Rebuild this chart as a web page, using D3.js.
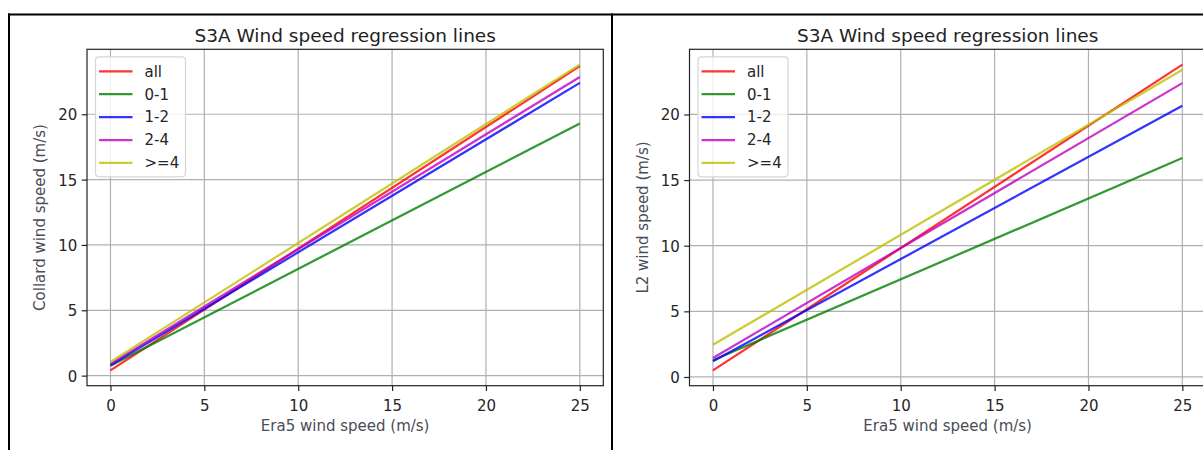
<!DOCTYPE html>
<html>
<head>
<meta charset="utf-8">
<script src="https://cdn.jsdelivr.net/npm/d3@7"></script>
<style>
  html, body { margin: 0; padding: 0; background: #fff; }
  svg { display: block; font-family: "DejaVu Sans", sans-serif; }
</style>
</head>
<body>
<svg id="chart" width="1203" height="450"></svg>
<script>
// Regression lines: fitted values at Era5 = 0 and Era5 = 25 m/s
const era5Range = [0, 25];
const seriesNames = ["all", "0-1", "1-2", "2-4", ">=4"];
const seriesColors = ["#ff0000", "#008000", "#0000ff", "#bf00bf", "#bfbf00"];

// Collard model
const collardStart = [0.40, 0.75, 0.80, 0.90, 1.05];
const collardEnd   = [23.68, 19.30, 22.40, 22.85, 23.80];

// L2 model
const l2Start = [0.50, 1.28, 1.20, 1.45, 2.45];
const l2End   = [23.80, 16.68, 20.66, 22.39, 23.40];

const xTicks = [0, 5, 10, 15, 20, 25];
const yTicks = [0, 5, 10, 15, 20];

const titleText = "S3A Wind speed regression lines";
const xLabel = "Era5 wind speed (m/s)";

const svg = d3.select("#chart");

// cell frame lines
svg.append("line").attr("x1", 8).attr("x2", 1203).attr("y1", 14.5).attr("y2", 14.5)
  .attr("stroke", "#000").attr("stroke-width", 2);
svg.append("line").attr("x1", 9).attr("x2", 9).attr("y1", 13.5).attr("y2", 450)
  .attr("stroke", "#000").attr("stroke-width", 2);
svg.append("line").attr("x1", 612).attr("x2", 612).attr("y1", 13.5).attr("y2", 450)
  .attr("stroke", "#000").attr("stroke-width", 2);

function drawPanel(opts) {
  const { left, right, top, bottom, starts, ends, yLabel } = opts;
  const g = svg.append("g");

  // autoscale with 5% margins, like the plotting defaults
  const xSpan = era5Range[1] - era5Range[0];
  const xScale = d3.scaleLinear()
    .domain([era5Range[0] - 0.05 * xSpan, era5Range[1] + 0.05 * xSpan])
    .range([left, right]);
  const allVals = starts.concat(ends);
  const yMin = d3.min(allVals), yMax = d3.max(allVals);
  const ySpan = yMax - yMin;
  const yScale = d3.scaleLinear()
    .domain([yMin - 0.05 * ySpan, yMax + 0.05 * ySpan])
    .range([bottom, top]);

  const clipId = "clip" + Math.round(left);
  g.append("clipPath").attr("id", clipId)
    .append("rect").attr("x", left).attr("y", top)
    .attr("width", right - left).attr("height", bottom - top);

  // grid
  const grid = g.append("g").attr("clip-path", `url(#${clipId})`);
  grid.selectAll("line.gx").data(xTicks).join("line")
    .attr("x1", d => xScale(d)).attr("x2", d => xScale(d))
    .attr("y1", top).attr("y2", bottom)
    .attr("stroke", "#b0b0b0").attr("stroke-width", 1.2);
  grid.selectAll("line.gy").data(yTicks).join("line")
    .attr("y1", d => yScale(d)).attr("y2", d => yScale(d))
    .attr("x1", left).attr("x2", right)
    .attr("stroke", "#b0b0b0").attr("stroke-width", 1.2);

  // regression lines
  const lineGen = d3.line().x(d => xScale(d[0])).y(d => yScale(d[1]));
  const lines = g.append("g").attr("clip-path", `url(#${clipId})`);
  seriesNames.forEach((name, i) => {
    lines.append("path")
      .datum([[era5Range[0], starts[i]], [era5Range[1], ends[i]]])
      .attr("d", lineGen)
      .attr("fill", "none")
      .attr("stroke", seriesColors[i])
      .attr("stroke-opacity", 0.8)
      .attr("stroke-width", 2.25);
  });

  // axes
  const xAxis = d3.axisBottom(xScale).tickValues(xTicks).tickSize(5.25).tickPadding(4);
  const yAxis = d3.axisLeft(yScale).tickValues(yTicks).tickSize(5.25).tickPadding(4.5);
  const xa = g.append("g").attr("transform", `translate(0,${bottom})`).call(xAxis);
  const ya = g.append("g").attr("transform", `translate(${left},0)`).call(yAxis);
  [xa, ya].forEach(a => {
    a.select(".domain").remove();
    a.selectAll(".tick line").attr("stroke", "#222").attr("stroke-width", 1.2);
    a.selectAll(".tick text").attr("fill", "#262626")
      .style("font-size", "15px").style("font-family", "DejaVu Sans");
  });
  xa.selectAll(".tick text").attr("dy", null).attr("y", 24.9);
  ya.selectAll(".tick text").attr("dy", "0.36em");

  // spines
  g.append("rect").attr("x", left).attr("y", top)
    .attr("width", right - left).attr("height", bottom - top)
    .attr("fill", "none").attr("stroke", "#222").attr("stroke-width", 1.2);

  const cx = (left + right) / 2;
  g.append("text").attr("x", cx).attr("y", top - 7.8)
    .attr("text-anchor", "middle").attr("fill", "#222")
    .style("font-size", "18.5px").text(titleText);
  g.append("text").attr("x", cx).attr("y", 430.5)
    .attr("text-anchor", "middle").attr("fill", "#4a4d57")
    .style("font-size", "15px").text(xLabel);
  g.append("text")
    .attr("transform", `translate(${opts.yLabelX},${(top + bottom) / 2}) rotate(-90)`)
    .attr("text-anchor", "middle").attr("fill", "#4a4d57")
    .style("font-size", "15px").text(yLabel);

  // legend
  const lg = g.append("g").attr("transform", `translate(${left + 8.5},${top + 7.5})`);
  const rowH = 22.9;
  lg.append("rect").attr("x", 0).attr("y", 0)
    .attr("width", 90).attr("height", 120).attr("rx", 3.5)
    .attr("fill", "#fff").attr("fill-opacity", 0.8)
    .attr("stroke", "#d6d6d6").attr("stroke-width", 1.2);
  seriesNames.forEach((name, i) => {
    const yy = 14.5 + i * rowH;
    lg.append("line").attr("x1", 3.5).attr("x2", 37).attr("y1", yy).attr("y2", yy)
      .attr("stroke", seriesColors[i]).attr("stroke-opacity", 0.8).attr("stroke-width", 2.25);
    lg.append("text").attr("x", 49).attr("y", yy).attr("dy", "0.36em")
      .attr("fill", "#262626").style("font-size", "15px").text(name);
  });
}

drawPanel({
  left: 87, right: 603.3, top: 49.3, bottom: 385.7,
  starts: collardStart, ends: collardEnd,
  yLabel: "Collard wind speed (m/s)", yLabelX: 45
});
drawPanel({
  left: 689.5, right: 1205.8, top: 49.3, bottom: 385.7,
  starts: l2Start, ends: l2End,
  yLabel: "L2 wind speed (m/s)", yLabelX: 648
});
</script>
</body>
</html>
